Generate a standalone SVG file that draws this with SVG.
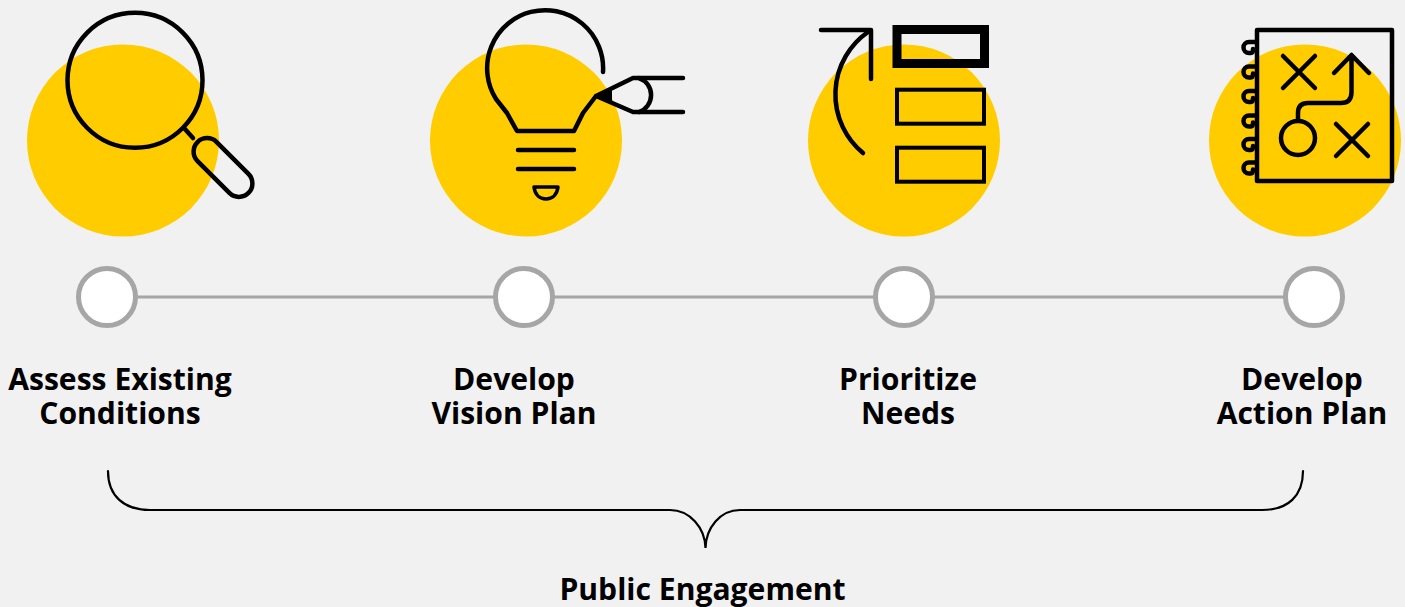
<svg xmlns="http://www.w3.org/2000/svg" width="1405" height="607" viewBox="0 0 1405 607">
<style>
.sun{fill:#ffcc00}
.ln{fill:none;stroke:#000;stroke-width:4.500;stroke-linecap:round;stroke-linejoin:round}
.dot{fill:#fff;stroke:#a6a6a6;stroke-width:5}
.lbl{font-family:"Open Sans","Noto Sans",sans-serif;font-weight:700;font-size:30.100px;fill:#000;text-anchor:middle}
</style>
<defs>
<path id="curl" d="M1255,-6 H1249 A5.500,5.500 0 0 0 1249,5 H1251 Q1253,5 1253,1"/>
</defs>
<rect width="1405" height="607" fill="#f1f1f1"/>
<g id="connectors">
<line x1="107" y1="297" x2="1314" y2="297" stroke="#a6a6a6" stroke-width="3"/>
<path d="M108,471 C108,496 124,510 150,510 H670 C690,510 705,528 705.500,548 C706,528 720,510 740,510 H1262 C1288,510 1303,496 1303,471" fill="none" stroke="#000" stroke-width="2.200" stroke-linecap="round"/>
</g>
<g id="node-assess">
<circle class="sun" cx="123" cy="140.500" r="96"/>
<circle class="ln" cx="135" cy="80.300" r="67.500"/>
<line class="ln" x1="184" y1="128" x2="193" y2="138"/>
<rect class="ln" x="187" y="154" width="72" height="27" rx="13.500" transform="rotate(45 223 167.500)"/>
<circle class="dot" cx="107" cy="297" r="28.500"/>
<text class="lbl" x="120" y="390">Assess Existing</text>
<text class="lbl" x="120" y="423.500">Conditions</text>
</g>
<g id="node-vision">
<circle class="sun" cx="526" cy="140.500" r="96"/>
<path class="ln" d="M603,72 A58,58 0 1 0 496,99 L507,113 L517,131 H574 L583,113 L596,96 L633,78 H683 M596,96 L633,112 H683"/>
<path d="M598,95 L612,88 V102 Z" fill="#000"/>
<path class="ln" d="M639,78 A18,18 0 0 1 639,112"/>
<path class="ln" d="M518,150 H574 M518,169 H574"/>
<path d="M534,187 H558 C557,195 552,199 546,199 C540,199 535,195 534,187 Z" fill="none" stroke="#000" stroke-width="3.500" stroke-linejoin="round"/>
<circle class="dot" cx="524" cy="297" r="28.500"/>
<text class="lbl" x="514" y="390">Develop</text>
<text class="lbl" x="514" y="423.500">Vision Plan</text>
</g>
<g id="node-prioritize">
<circle class="sun" cx="904" cy="140.500" r="96"/>
<path class="ln" d="M821,30 H871 V79" stroke-linecap="butt"/>
<path class="ln" d="M868,32 A76,76 0 0 0 863,153" stroke-linecap="butt"/>
<rect x="897" y="29.500" width="87.500" height="34" fill="none" stroke="#000" stroke-width="9"/>
<rect x="897" y="89.700" width="87" height="34" fill="none" stroke="#000" stroke-width="4"/>
<rect x="897" y="147.700" width="87" height="34" fill="none" stroke="#000" stroke-width="4"/>
<circle class="dot" cx="904" cy="297" r="28.500"/>
<text class="lbl" x="908" y="390">Prioritize</text>
<text class="lbl" x="908" y="423.500">Needs</text>
</g>
<g id="node-action">
<circle class="sun" cx="1305" cy="140.500" r="96"/>
<rect class="ln" x="1257" y="30" width="135" height="151" stroke-linejoin="miter"/>
<use href="#curl" class="ln" y="48"/>
<use href="#curl" class="ln" y="72.500"/>
<use href="#curl" class="ln" y="97"/>
<use href="#curl" class="ln" y="121.500"/>
<use href="#curl" class="ln" y="145"/>
<use href="#curl" class="ln" y="168.500"/>
<path class="ln" d="M1283,56 L1315,88 M1315,56 L1283,88 M1336,124 L1368,156 M1368,124 L1336,156"/>
<path class="ln" d="M1298,120 V113 Q1298,103 1308,103 H1341 Q1351.500,103 1351.500,92 V56 M1334,73 L1351.500,55 L1369,73"/>
<circle class="ln" cx="1298" cy="138" r="17"/>
<circle class="dot" cx="1314" cy="297" r="28.500"/>
<text class="lbl" x="1302" y="390">Develop</text>
<text class="lbl" x="1302" y="423.500">Action Plan</text>
</g>
<g id="node-public">
<text class="lbl" x="702.500" y="600">Public Engagement</text>
</g>
</svg>
